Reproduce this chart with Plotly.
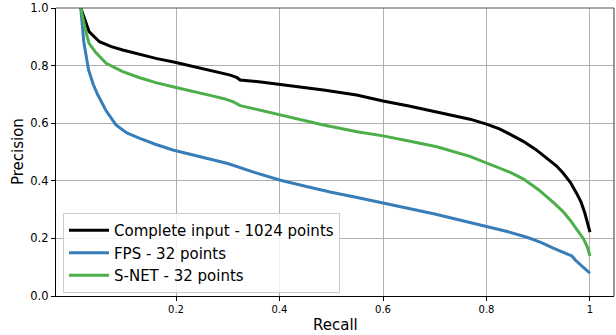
import plotly.graph_objects as go

# Complete input - 1024 points
recall_complete = [0.016, 0.032, 0.052, 0.075, 0.097, 0.13, 0.161, 0.2, 0.239, 0.27, 0.291, 0.305, 0.318, 0.324,
                   0.36, 0.401, 0.45, 0.485, 0.549, 0.6, 0.65, 0.704, 0.768, 0.8, 0.825, 0.845, 0.871, 0.895, 0.916,
                   0.935, 0.948, 0.962, 0.974, 0.983, 0.99, 0.995, 1.0]
precision_complete = [1.0, 0.918, 0.883, 0.866, 0.854, 0.838, 0.825, 0.811, 0.795, 0.782, 0.773, 0.767, 0.758, 0.75,
                      0.744, 0.735, 0.724, 0.715, 0.698, 0.677, 0.66, 0.64, 0.614, 0.597, 0.58, 0.562, 0.537, 0.509,
                      0.48, 0.452, 0.427, 0.395, 0.357, 0.325, 0.288, 0.258, 0.222]

# FPS - 32 points
recall_fps = [0.016, 0.022, 0.031, 0.04, 0.049, 0.065, 0.084, 0.105, 0.129, 0.16, 0.194, 0.239, 0.3, 0.35, 0.4,
              0.45, 0.5, 0.55, 0.6, 0.65, 0.7, 0.75, 0.8, 0.84, 0.878, 0.905, 0.929, 0.95, 0.965, 0.972, 0.981,
              0.99, 1.0]
precision_fps = [1.0, 0.88, 0.785, 0.735, 0.698, 0.643, 0.594, 0.566, 0.548, 0.527, 0.507, 0.486, 0.46, 0.43, 0.403,
                 0.381, 0.36, 0.342, 0.323, 0.305, 0.285, 0.263, 0.241, 0.224, 0.204, 0.186, 0.166, 0.15, 0.139,
                 0.124, 0.108, 0.095, 0.079]

# S-NET - 32 points
recall_snet = [0.016, 0.024, 0.032, 0.045, 0.065, 0.097, 0.13, 0.161, 0.2, 0.239, 0.27, 0.291, 0.31, 0.324, 0.36,
               0.401, 0.45, 0.485, 0.55, 0.6, 0.65, 0.704, 0.768, 0.8, 0.825, 0.845, 0.871, 0.9, 0.929, 0.948, 0.961,
               0.975, 0.987, 0.995, 1.0]
precision_snet = [1.0, 0.93, 0.877, 0.845, 0.808, 0.779, 0.758, 0.741, 0.724, 0.709, 0.695, 0.686, 0.675, 0.661,
                  0.646, 0.628, 0.609, 0.594, 0.57, 0.556, 0.538, 0.518, 0.485, 0.463, 0.446, 0.43, 0.407, 0.37,
                  0.325, 0.293, 0.265, 0.232, 0.2, 0.17, 0.139]

series_names = ["Complete input - 1024 points", "FPS - 32 points", "S-NET - 32 points"]
series_colors = ["#000000", "#377eb8", "#4daf4a"]

x_tickvals = [0.2, 0.4, 0.6, 0.8, 1.0]
x_ticktext = ["0.2", "0.4", "0.6", "0.8", "1"]
y_tickvals = [0.0, 0.2, 0.4, 0.6, 0.8, 1.0]
y_ticktext = ["0.0", "0.2", "0.4", "0.6", "0.8", "1.0"]

FONT = "DejaVu Sans"

fig = go.Figure()
for xs, ys, name, col in zip([recall_complete, recall_fps, recall_snet],
                             [precision_complete, precision_fps, precision_snet],
                             series_names, series_colors):
    fig.add_trace(go.Scatter(x=xs, y=ys, mode="lines", name=name,
                             line=dict(color=col, width=3)))

fig.update_layout(
    width=616, height=335,
    margin=dict(l=56, r=2, t=8, b=39),
    plot_bgcolor="white", paper_bgcolor="white",
    font=dict(family=FONT, color="#000000"),
    showlegend=True,
    legend=dict(x=0.0125, y=0.01, xanchor="left", yanchor="bottom",
                bgcolor="rgba(255,255,255,0.85)", bordercolor="#cccccc", borderwidth=1,
                font=dict(family=FONT, size=15, color="#000000"),
                itemwidth=40, tracegroupgap=0),
    xaxis=dict(range=[-0.0319, 1.0464], tickvals=x_tickvals, ticktext=x_ticktext,
               showgrid=True, gridcolor="#b0b0b0", gridwidth=1, zeroline=False,
               showline=True, linecolor="#000000", linewidth=1.2,
               ticks="outside", ticklen=4, tickcolor="#000000",
               tickfont=dict(family=FONT, size=10)),
    yaxis=dict(range=[0, 1], tickvals=y_tickvals, ticktext=y_ticktext,
               showgrid=True, gridcolor="#b0b0b0", gridwidth=1, zeroline=False,
               showline=True, linecolor="#000000", linewidth=1.2,
               ticks="outside", ticklen=4, tickcolor="#000000",
               tickfont=dict(family=FONT, size=11.5)),
    annotations=[
        dict(text="Recall", x=0.5, y=-0.1, xref="paper", yref="paper",
             xanchor="center", yanchor="middle", showarrow=False,
             font=dict(family=FONT, size=15)),
        dict(text="Precision", x=-0.068, y=0.5, xref="paper", yref="paper",
             xanchor="center", yanchor="middle", showarrow=False, textangle=-90,
             font=dict(family=FONT, size=15)),
    ],
    shapes=[
        dict(type="line", xref="paper", yref="paper", x0=0, x1=1, y0=1, y1=1,
             line=dict(color="#555555", width=1.2)),
        dict(type="line", xref="paper", yref="paper", x0=1, x1=1, y0=0, y1=1,
             line=dict(color="#555555", width=1.2)),
    ],
)

fig.write_html("out.html", config={"displayModeBar": False},
               post_script="document.body.style.margin='0';document.body.style.overflow='hidden';")
